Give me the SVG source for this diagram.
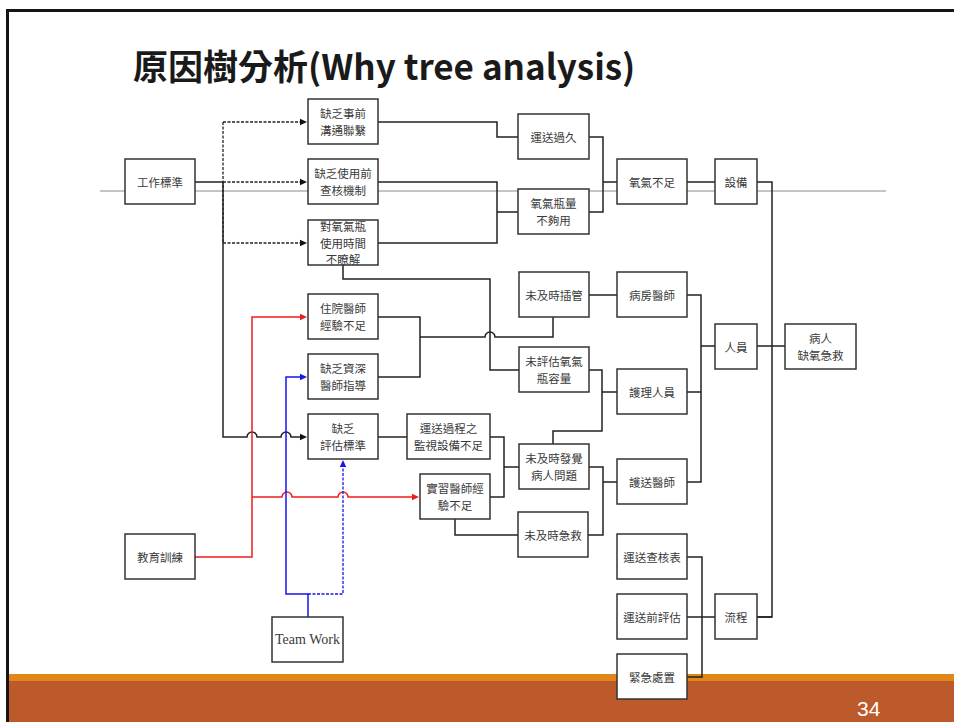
<svg xmlns="http://www.w3.org/2000/svg" width="954" height="722" viewBox="0 0 954 722">
<style>
.bx rect{fill:#fff;stroke:#333;stroke-width:1.5}
.bx text{font-family:"Noto Sans CJK TC","Noto Sans CJK SC",sans-serif;font-size:11.5px;fill:#3a3a3a;text-anchor:middle;dominant-baseline:central}
.tw{font-family:"Liberation Serif",serif !important;font-size:14px !important}
.k{fill:none;stroke:#222;stroke-width:1.5}
.kd{fill:none;stroke:#222;stroke-width:1.3;stroke-dasharray:3 1.5}
.r{fill:none;stroke:#ee1c1c;stroke-width:1.5}
.b{fill:none;stroke:#1515f0;stroke-width:1.5}
.bd{fill:none;stroke:#1515f0;stroke-width:1.3;stroke-dasharray:3 1.5}
</style>
<defs>
<marker id="ak" viewBox="0 0 8 8" refX="0" refY="4" markerWidth="8" markerHeight="8" markerUnits="userSpaceOnUse" orient="auto"><path d="M0,0.8 L7,4 L0,7.2 Z" fill="#111"/></marker>
<marker id="ar" viewBox="0 0 8 8" refX="0" refY="4" markerWidth="8" markerHeight="8" markerUnits="userSpaceOnUse" orient="auto"><path d="M0,0.8 L7,4 L0,7.2 Z" fill="#ee1c1c"/></marker>
<marker id="ab" viewBox="0 0 8 8" refX="0" refY="4" markerWidth="8" markerHeight="8" markerUnits="userSpaceOnUse" orient="auto"><path d="M0,0.8 L7,4 L0,7.2 Z" fill="#1515f0"/></marker>
</defs>
<rect x="0" y="0" width="954" height="722" fill="#fff"/>
<!-- slide frame and footer band -->
<rect x="6" y="9" width="948" height="3" fill="#151515"/>
<rect x="8" y="674" width="946" height="7" fill="#e3861a"/>
<rect x="8" y="681" width="946" height="41" fill="#bd5a2c"/>
<rect x="6" y="9" width="3" height="713" fill="#151515"/>
<text x="857" y="716" font-family="Liberation Sans, Arial, sans-serif" font-size="21" fill="#fff">34</text>
<text x="133" y="80" font-family="Noto Sans CJK TC, Noto Sans CJK SC, sans-serif" font-weight="bold" font-size="35" fill="#1a1a1a">原因樹分析(Why tree analysis)</text>
<path d="M100,191 H886" stroke="#8a8a8a" stroke-width="1" fill="none"/>
<g id="connectors">
<path class="k" d="M195,182 H223 M223,182 V437 H247 A5,5 0 0 1 257,437 H281 A5,5 0 0 1 291,437 H300" marker-end="url(#ak)"/>
<path class="kd" d="M223,122 V243"/>
<path class="kd" d="M223,122 H300" marker-end="url(#ak)"/>
<path class="kd" d="M223,182 H300" marker-end="url(#ak)"/>
<path class="kd" d="M223,243 H300" marker-end="url(#ak)"/>
<path class="k" d="M378,122 H497 V137 H518"/>
<path class="k" d="M378,182 H497 V243 H378 M497,212 H518"/>
<path class="k" d="M589,137 H603 V212 H589 M603,182 H617"/>
<path class="k" d="M687,182 H715"/>
<path class="k" d="M757,182 H772 V617 H757 M757,346 H785"/>
<path class="k" d="M343,265 V279 H490 V370 H519"/>
<path class="k" d="M378,317 H420 V377 H378 M420,337 H485 A5,5 0 0 1 495,337 H553 V317"/>
<path class="k" d="M589,295 H617"/>
<path class="k" d="M687,295 H701 V482 H687 M687,392 H701 M701,346 H715"/>
<path class="k" d="M589,370 H602 V431 H553 V444 M602,392 H617"/>
<path class="k" d="M378,437 H407"/>
<path class="k" d="M490,437 H504 V497 H490 M504,467 H519"/>
<path class="k" d="M455,519 V535 H518"/>
<path class="k" d="M589,467 H603 V535 H588 M603,482 H617"/>
<path class="k" d="M687,557 H702 V677 H687 M687,617 H715"/>
<path class="k" d="M757,617 H772"/>
<path class="r" d="M195,557 H252 V317 H300" marker-end="url(#ar)"/>
<path class="r" d="M252,497 H282 A5,5 0 0 1 292,497 H338 A5,5 0 0 1 348,497 H412" marker-end="url(#ar)"/>
<path class="b" d="M308,617 V594 H286 V377 H300" marker-end="url(#ab)"/>
<path class="bd" d="M308,594 H343 V467" marker-end="url(#ab)"/>
</g>
<g id="n_gzbz" class="bx"><rect x="125" y="159" width="70" height="45"/><text x="160" y="181.5">工作標準</text></g>
<g id="n_qsaq" class="bx"><rect x="308" y="99" width="70" height="45"/><text x="343" y="113">缺乏事前</text><text x="343" y="130">溝通聯繫</text></g>
<g id="n_qssy" class="bx"><rect x="308" y="159" width="70" height="45"/><text x="343" y="173">缺乏使用前</text><text x="343" y="190">查核機制</text></g>
<g id="n_dyqp" class="bx"><rect x="308" y="220" width="70" height="45"/><text x="343" y="225.7">對氧氣瓶</text><text x="343" y="242.5">使用時間</text><text x="343" y="259.3">不瞭解</text></g>
<g id="n_zyys" class="bx"><rect x="308" y="294" width="70" height="45"/><text x="343" y="308">住院醫師</text><text x="343" y="325">經驗不足</text></g>
<g id="n_qszs" class="bx"><rect x="308" y="354" width="70" height="45"/><text x="343" y="368">缺乏資深</text><text x="343" y="385">醫師指導</text></g>
<g id="n_qspg" class="bx"><rect x="308" y="414" width="70" height="45"/><text x="343" y="428">缺乏</text><text x="343" y="445">評估標準</text></g>
<g id="n_ysgc" class="bx"><rect x="407" y="414" width="83" height="45"/><text x="448.5" y="428">運送過程之</text><text x="448.5" y="445">監視設備不足</text></g>
<g id="n_sxys" class="bx"><rect x="420" y="474" width="70" height="45"/><text x="455" y="488">實習醫師經</text><text x="455" y="505">驗不足</text></g>
<g id="n_ysgj" class="bx"><rect x="518" y="114" width="71" height="45"/><text x="553.5" y="136.5">運送過久</text></g>
<g id="n_qplbg" class="bx"><rect x="518" y="189" width="71" height="45"/><text x="553.5" y="203">氧氣瓶量</text><text x="553.5" y="220">不夠用</text></g>
<g id="n_wjscg" class="bx"><rect x="519" y="272" width="70" height="45"/><text x="554" y="294.5">未及時插管</text></g>
<g id="n_wpgqp" class="bx"><rect x="519" y="347" width="70" height="45"/><text x="554" y="361">未評估氧氣</text><text x="554" y="378">瓶容量</text></g>
<g id="n_wjsfj" class="bx"><rect x="519" y="444" width="70" height="45"/><text x="554" y="458">未及時發覺</text><text x="554" y="475">病人問題</text></g>
<g id="n_wjsjj" class="bx"><rect x="518" y="512" width="70" height="45"/><text x="553" y="534.5">未及時急救</text></g>
<g id="n_yqbz" class="bx"><rect x="617" y="159" width="70" height="45"/><text x="652" y="181.5">氧氣不足</text></g>
<g id="n_bfys" class="bx"><rect x="617" y="272" width="70" height="45"/><text x="652" y="294.5">病房醫師</text></g>
<g id="n_hlry" class="bx"><rect x="617" y="369" width="70" height="45"/><text x="652" y="391.5">護理人員</text></g>
<g id="n_hsys" class="bx"><rect x="617" y="459" width="70" height="45"/><text x="652" y="481.5">護送醫師</text></g>
<g id="n_yschb" class="bx"><rect x="617" y="534" width="70" height="45"/><text x="652" y="556.5">運送查核表</text></g>
<g id="n_ysqpg" class="bx"><rect x="617" y="594" width="70" height="45"/><text x="652" y="616.5">運送前評估</text></g>
<g id="n_jjcz" class="bx"><rect x="617" y="654" width="70" height="45"/><text x="652" y="676.5">緊急處置</text></g>
<g id="n_sb" class="bx"><rect x="715" y="159" width="42" height="45"/><text x="736" y="181.5">設備</text></g>
<g id="n_ry" class="bx"><rect x="715" y="324" width="42" height="45"/><text x="736" y="346.5">人員</text></g>
<g id="n_lc" class="bx"><rect x="715" y="594" width="42" height="45"/><text x="736" y="616.5">流程</text></g>
<g id="n_brqy" class="bx"><rect x="785" y="324" width="71" height="45"/><text x="820.5" y="338">病人</text><text x="820.5" y="355">缺氧急救</text></g>
<g id="n_jyxl" class="bx"><rect x="125" y="534" width="70" height="45"/><text x="160" y="556.5">教育訓練</text></g>
<g id="n_tw" class="bx"><rect x="272" y="617" width="71" height="45"/><text class="tw" x="307.5" y="639.5">Team Work</text></g>
</svg>
